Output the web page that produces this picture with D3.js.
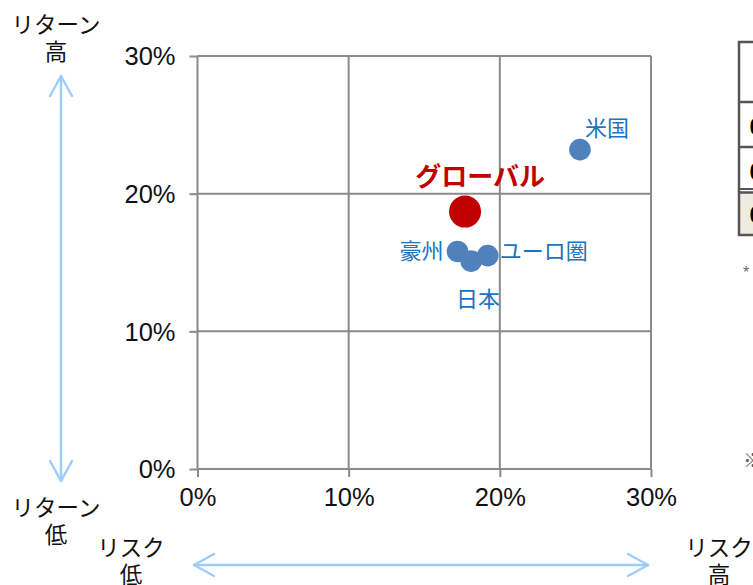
<!DOCTYPE html>
<html><head><meta charset="utf-8">
<script src="https://cdn.jsdelivr.net/npm/d3@7"></script>
<style>body{margin:0;background:#fff;overflow:hidden} svg{display:block}</style>
</head><body>
<script>
// Risk / return by region (%)
const names = ["米国", "豪州", "日本", "ユーロ圏", "グローバル"];
const risk  = [25.3, 17.2, 18.1, 19.2, 17.7];
const ret   = [23.2, 15.8, 15.1, 15.5, 18.7];
const xTicks = [0, 10, 20, 30];
const yTicks = [0, 10, 20, 30];
const tableFirstDigits = ["0", "0", "0"];

const W = 753, H = 585;
const svg = d3.select("body").append("svg").attr("width", W).attr("height", H);
const jp = "'Noto Sans CJK JP', 'Noto Sans', sans-serif";
const num = "'Liberation Sans', Arial, sans-serif";

const x = d3.scaleLinear().domain([0, 30]).range([197.5, 651]);
const y = d3.scaleLinear().domain([0, 30]).range([469, 56]);
const gridCol = "#8a8a8a";

// grid + ticks
const xAxis = d3.axisBottom(x).tickValues(xTicks).tickFormat(d => d + "%").tickSize(8).tickPadding(11);
const yAxis = d3.axisLeft(y).tickValues(yTicks).tickFormat(d => d + "%").tickSize(8).tickPadding(14);

const gx = svg.append("g").attr("transform", `translate(0,${y(0)})`).call(xAxis);
const gy = svg.append("g").attr("transform", `translate(${x(0)},0)`).call(yAxis);
[gx, gy].forEach(g => {
  g.select(".domain").remove();
  g.selectAll(".tick line").attr("stroke", gridCol).attr("stroke-width", 2);
  g.selectAll(".tick text").attr("fill", "#111").style("font-family", num).style("font-size", "25.5px");
});
gx.selectAll(".tick text").attr("dy", "0.71em");
gy.selectAll(".tick text").attr("dy", "0.35em");

const grid = svg.append("g").attr("stroke", gridCol).attr("stroke-width", 2);
xTicks.forEach(t => grid.append("line").attr("x1", x(t)).attr("x2", x(t)).attr("y1", y(30)).attr("y2", y(0)));
yTicks.forEach(t => grid.append("line").attr("x1", x(0)).attr("x2", x(30)).attr("y1", y(t)).attr("y2", y(t)));

// points
const isGlobal = n => n === "グローバル";
svg.append("g").selectAll("circle").data(names).join("circle")
  .attr("cx", (d, i) => x(risk[i]))
  .attr("cy", (d, i) => y(ret[i]))
  .attr("r", d => isGlobal(d) ? 16 : 10.8)
  .attr("fill", d => isGlobal(d) ? "#C00000" : "#4F81BD");

// point labels
const lab = {
  "米国":     {dx: 5,   dy: -21, a: "start"},
  "豪州":     {dx: -14, dy: 0,   a: "end"},
  "日本":     {dx: 7,   dy: 38,  a: "middle"},
  "ユーロ圏": {dx: 12,  dy: -4,  a: "start"},
  "グローバル": {dx: 15, dy: -35, a: "middle"}
};
svg.append("g").selectAll("text").data(names).join("text")
  .attr("x", (d, i) => x(risk[i]) + lab[d].dx)
  .attr("y", (d, i) => y(ret[i]) + lab[d].dy)
  .attr("dy", "0.35em")
  .attr("text-anchor", d => lab[d].a)
  .attr("fill", d => isGlobal(d) ? "#C00000" : "#1A74C2")
  .style("font-family", jp)
  .style("font-weight", d => isGlobal(d) ? "bold" : "normal")
  .style("font-size", d => isGlobal(d) ? "26px" : "22px")
  .text(d => d);

// direction arrows
const arrowCol = "#9FCDFB";
const ar = svg.append("g").attr("stroke", arrowCol).attr("stroke-width", 2.5).attr("fill", "none")
  .attr("stroke-linecap", "round").attr("stroke-linejoin", "round");
ar.append("line").attr("x1", 61).attr("x2", 61).attr("y1", 76).attr("y2", 481);
ar.append("path").attr("d", "M50,96 L61,76 L72,96");
ar.append("path").attr("d", "M50,461 L61,481 L72,461");
ar.append("line").attr("x1", 194).attr("x2", 648).attr("y1", 565).attr("y2", 565);
ar.append("path").attr("d", "M214,554 L194,565 L214,576");
ar.append("path").attr("d", "M628,554 L648,565 L628,576");

// axis captions, two lines each
const cap = [
  {a: "リターン", b: "高", x: 56, y: 25},
  {a: "リターン", b: "低", x: 56, y: 508},
  {a: "リスク", b: "低", x: 131, y: 548},
  {a: "リスク", b: "高", x: 719, y: 548}
];
const ct = svg.append("g").selectAll("text").data(cap).join("text")
  .attr("text-anchor", "middle").attr("fill", "#111")
  .style("font-family", jp).style("font-size", "22.5px");
ct.append("tspan").attr("x", d => d.x).attr("y", d => d.y).attr("dy", "0.35em").text(d => d.a);
ct.append("tspan").attr("x", d => d.x).attr("y", d => d.y + 27).attr("dy", "0.35em").text(d => d.b);

// side table (edge)
const tb = svg.append("g");
tb.append("rect").attr("x", 739).attr("y", 192).attr("width", 20).attr("height", 43).attr("fill", "#EEECE1");
tb.append("path").attr("d", "M760,42 H739 V235 H760").attr("fill", "none").attr("stroke", "#555").attr("stroke-width", 2.5);
[102, 147, 189, 192.5].forEach(v => tb.append("line").attr("x1", 739).attr("x2", 760).attr("y1", v).attr("y2", v)
  .attr("stroke", "#555").attr("stroke-width", v === 189 ? 2 : 2.5));
tb.selectAll("text.d").data(tableFirstDigits).join("text")
  .attr("x", 749.5).attr("y", (d, i) => [127, 172, 215][i]).attr("dy", "0.35em")
  .attr("fill", "#000").style("font-family", num).style("font-weight", "bold").style("font-size", "24px")
  .text(d => d);
svg.append("text").attr("x", 743).attr("y", 278).attr("fill", "#666")
  .style("font-family", num).style("font-size", "16px").text("*");
svg.append("text").attr("x", 743).attr("y", 461).attr("dy", "0.35em").attr("fill", "#555")
  .style("font-family", jp).style("font-size", "20px").text("※");
</script>
</body></html>
